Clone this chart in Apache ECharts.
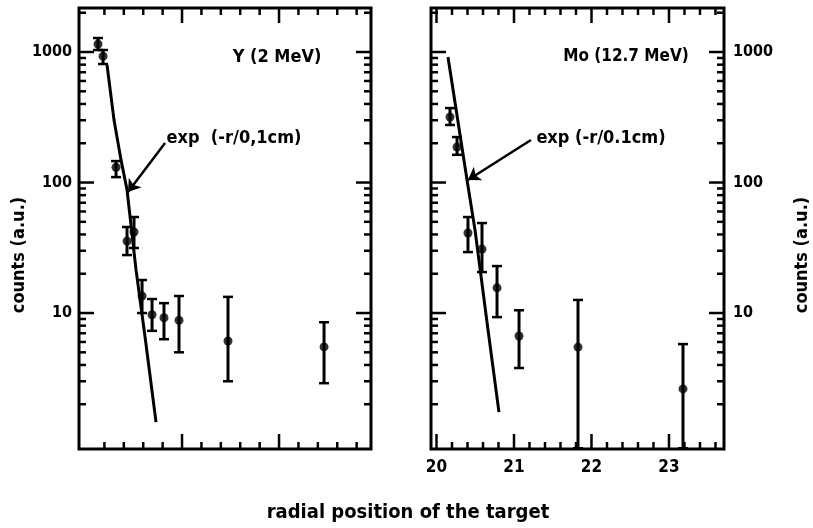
<!DOCTYPE html>
<html>
<head>
<meta charset="utf-8">
<script src="https://cdn.jsdelivr.net/npm/echarts@6/dist/echarts.min.js"></script>
<style>
html, body { margin: 0; padding: 0; background: #fff; }
#main { width: 813px; height: 528px; }
</style>
</head>
<body>
<div id="main"></div>
<script>
// Y (2 MeV) panel : position, counts, error bar low / high
const yPos   = [0.134, 0.186, 0.320, 0.433, 0.505, 0.588, 0.691, 0.814, 0.969, 1.474, 2.464];
const yCnt   = [1150, 930, 131, 35.6, 41.8, 13.5, 9.7, 9.2, 8.8, 6.1, 5.5];
const yLow   = [1036, 809, 110, 27.8, 31.5, 10.0, 7.3, 6.3, 5.0, 3.0, 2.9];
const yHigh  = [1280, 1036, 146, 45.6, 54.4, 17.9, 12.8, 11.9, 13.5, 13.3, 8.5];
const yFitPos = [0.227, 0.299, 0.371, 0.433, 0.526, 0.619, 0.732];
const yFitCnt = [795, 301, 149, 88, 21.4, 6.55, 1.46];

// Mo (12.7 MeV) panel
const moPos   = [20.174, 20.265, 20.406, 20.587, 20.781, 21.065, 21.826, 23.181];
const moCnt   = [318, 187, 41.0, 30.9, 15.6, 6.67, 5.48, 2.62];
const moLow   = [276, 163, 29.3, 20.6, 9.3, 3.79, 0.92, 0.92];
const moHigh  = [372, 223, 54.4, 48.9, 22.9, 10.5, 12.6, 5.78];
const moFitPos = [20.148, 20.394, 20.497, 20.665, 20.806];
const moFitCnt = [916, 104.5, 43.3, 7.41, 1.74];

// ticks
const countMajor = [10, 100, 1000];
const countMinor = [2, 3, 4, 5, 6, 7, 8, 9, 20, 30, 40, 50, 60, 70, 80, 90,
                    200, 300, 400, 500, 600, 700, 800, 900, 2000];
const yPosMajor = [1, 2];
const yPosMinor = [0.2, 0.4, 0.6, 0.8, 1.2, 1.4, 1.6, 1.8, 2.2, 2.4, 2.6, 2.8];
const moPosMajor = [20, 21, 22, 23];
const moPosMinor = [20.2, 20.4, 20.6, 20.8, 21.2, 21.4, 21.6, 21.8,
                    22.2, 22.4, 22.6, 22.8, 23.2, 23.4, 23.6];

const FONT = "'DejaVu Sans Condensed', 'Liberation Sans Narrow', 'DejaVu Sans', sans-serif";
const Y_MIN = 0.908, Y_MAX = 2174;

function pts(xs, ys) { return xs.map((x, i) => [x, ys[i]]); }

// tick marks on all four sides of a panel, drawn inward
function tickSeries(idx, xMajor, xMinor, xMin) {
    let data = [];
    xMajor.forEach(v => data.push([v, 10, 0, 15]));
    xMinor.forEach(v => data.push([v, 10, 0, 7]));
    countMajor.forEach(v => data.push([xMin, v, 1, 15]));
    countMinor.forEach(v => data.push([xMin, v, 1, 7]));
    return {
        type: 'custom', xAxisIndex: idx, yAxisIndex: idx, silent: true, clip: false, z: 5,
        renderItem: function (params, api) {
            const r = params.coordSys;
            const len = api.value(3);
            const st = { stroke: '#000', lineWidth: 2.5 };
            if (api.value(2) === 0) {
                const px = api.coord([api.value(0), 10])[0];
                return { type: 'group', children: [
                    { type: 'line', shape: { x1: px, y1: r.y + r.height, x2: px, y2: r.y + r.height - len }, style: st },
                    { type: 'line', shape: { x1: px, y1: r.y, x2: px, y2: r.y + len }, style: st }
                ]};
            }
            const py = api.coord([api.value(0), api.value(1)])[1];
            return { type: 'group', children: [
                { type: 'line', shape: { x1: r.x, y1: py, x2: r.x + len, y2: py }, style: st },
                { type: 'line', shape: { x1: r.x + r.width, y1: py, x2: r.x + r.width - len, y2: py }, style: st }
            ]};
        },
        data: data
    };
}

function errorSeries(idx, xs, lo, hi) {
    return {
        type: 'custom', xAxisIndex: idx, yAxisIndex: idx, silent: true, z: 4,
        encode: { x: 0, y: [1, 2] },
        renderItem: function (params, api) {
            const top = api.coord([api.value(0), api.value(2)]);
            const bot = api.coord([api.value(0), api.value(1)]);
            const w = 5;
            return { type: 'group', children: [
                { type: 'line', shape: { x1: top[0], y1: top[1], x2: bot[0], y2: bot[1] }, style: { stroke: '#000', lineWidth: 3 } },
                { type: 'line', shape: { x1: top[0] - w, y1: top[1], x2: top[0] + w, y2: top[1] }, style: { stroke: '#000', lineWidth: 2.5 } },
                { type: 'line', shape: { x1: bot[0] - w, y1: bot[1], x2: bot[0] + w, y2: bot[1] }, style: { stroke: '#000', lineWidth: 2.5 } }
            ]};
        },
        data: xs.map((x, i) => [x, lo[i], hi[i]])
    };
}

function countAxis(idx, pos) {
    return {
        type: 'log', logBase: 10, gridIndex: idx, position: pos, min: Y_MIN, max: Y_MAX,
        axisLine: { show: false }, axisTick: { show: false }, splitLine: { show: false },
        axisLabel: {
            customValues: countMajor, margin: pos === 'left' ? 7 : 9,
            color: '#000', fontFamily: FONT, fontWeight: 'bold', fontSize: 16,
            formatter: v => String(Math.round(v))
        }
    };
}

const option = {
    animation: false,
    backgroundColor: '#fff',
    grid: [
        { left: 79, top: 8, width: 292, height: 441, show: true, borderColor: '#000', borderWidth: 3 },
        { left: 431, top: 8, width: 293, height: 441, show: true, borderColor: '#000', borderWidth: 3 }
    ],
    xAxis: [
        { type: 'value', gridIndex: 0, min: -0.062, max: 2.948,
          axisLine: { show: false }, axisTick: { show: false }, splitLine: { show: false },
          axisLabel: { show: false } },
        { type: 'value', gridIndex: 1, min: 19.929, max: 23.71,
          axisLine: { show: false }, axisTick: { show: false }, splitLine: { show: false },
          axisLabel: { customValues: moPosMajor, margin: 10, color: '#000',
                       fontFamily: FONT, fontWeight: 'bold', fontSize: 17 } }
    ],
    yAxis: [countAxis(0, 'left'), countAxis(1, 'right')],
    series: [
        tickSeries(0, yPosMajor, yPosMinor, -0.062),
        tickSeries(1, moPosMajor, moPosMinor, 19.929),
        errorSeries(0, yPos, yLow, yHigh),
        errorSeries(1, moPos, moLow, moHigh),
        { type: 'scatter', xAxisIndex: 0, yAxisIndex: 0, symbol: 'circle', symbolSize: 9,
          itemStyle: { color: '#000' }, data: pts(yPos, yCnt), z: 6 },
        { type: 'scatter', xAxisIndex: 1, yAxisIndex: 1, symbol: 'circle', symbolSize: 9,
          itemStyle: { color: '#000' }, data: pts(moPos, moCnt), z: 6 },
        { type: 'line', xAxisIndex: 0, yAxisIndex: 0, showSymbol: false, symbol: 'none',
          lineStyle: { color: '#000', width: 3 }, data: pts(yFitPos, yFitCnt),
          markLine: { silent: true, symbol: ['none', 'arrow'], symbolSize: 12,
                      label: { show: false }, lineStyle: { color: '#000', width: 2.5, type: 'solid' },
                      data: [[{ coord: [0.825, 201] }, { coord: [0.443, 84.5] }]] } },
        { type: 'line', xAxisIndex: 1, yAxisIndex: 1, showSymbol: false, symbol: 'none',
          lineStyle: { color: '#000', width: 3 }, data: pts(moFitPos, moFitCnt),
          markLine: { silent: true, symbol: ['none', 'arrow'], symbolSize: 12,
                      label: { show: false }, lineStyle: { color: '#000', width: 2.5, type: 'solid' },
                      data: [[{ coord: [21.219, 212] }, { coord: [20.406, 104.5] }]] } }
    ],
    graphic: [
        { type: 'text', x: 277, y: 57, style: { text: 'Y (2 MeV)', align: 'center', verticalAlign: 'middle',
          font: 'bold 18px ' + FONT, fill: '#000' } },
        { type: 'text', x: 234, y: 138, style: { text: 'exp  (-r/0,1cm)', align: 'center', verticalAlign: 'middle',
          font: 'bold 18px ' + FONT, fill: '#000' } },
        { type: 'text', x: 626, y: 57, style: { text: 'Mo (12.7 MeV)', align: 'center', verticalAlign: 'middle',
          font: 'bold 17px ' + FONT, fill: '#000' } },
        { type: 'text', x: 601, y: 138, style: { text: 'exp (-r/0.1cm)', align: 'center', verticalAlign: 'middle',
          font: 'bold 18px ' + FONT, fill: '#000' } },
        { type: 'text', x: 19, y: 255, rotation: Math.PI / 2, style: { text: 'counts (a.u.)', align: 'center',
          verticalAlign: 'middle', font: 'bold 18px ' + FONT, fill: '#000' } },
        { type: 'text', x: 802, y: 255, rotation: Math.PI / 2, style: { text: 'counts (a.u.)', align: 'center',
          verticalAlign: 'middle', font: 'bold 18px ' + FONT, fill: '#000' } },
        { type: 'text', x: 408, y: 513, style: { text: 'radial position of the target', align: 'center',
          verticalAlign: 'middle', font: 'bold 20px ' + FONT, fill: '#000' } }
    ]
};

let chart = echarts.init(document.querySelector('#main'));
chart.setOption(option);
</script>
</body>
</html>
